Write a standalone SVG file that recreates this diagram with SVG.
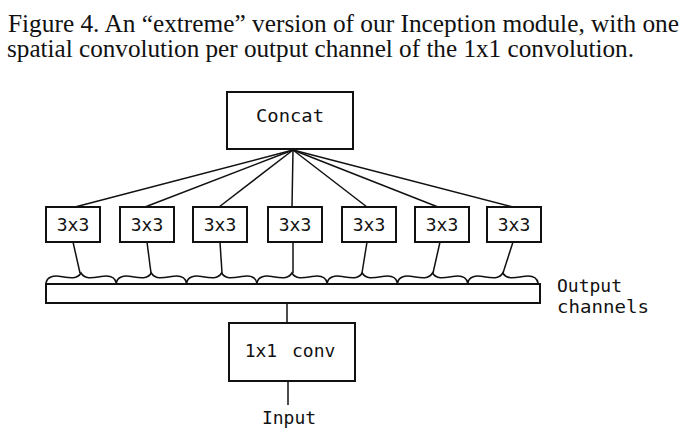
<svg xmlns="http://www.w3.org/2000/svg" width="688" height="440" viewBox="0 0 688 440">
<style>
.cap{font-family:"Liberation Serif","Times New Roman",serif;font-size:25px;fill:#111}
.m{font-family:"DejaVu Sans Mono","Liberation Mono",monospace;font-size:18px;fill:#111}
.box{fill:#fff;stroke:#111;stroke-width:2}
.ln{stroke:#111;stroke-width:1.5;fill:none}
.br{stroke:#111;stroke-width:1.6;fill:none}
</style>
<defs>
<path id="brace" d="M0,10 C1,4 7,2 15,3.5 C24,5 31,6.5 35,0 C39,6.5 46,5 55,3.5 C63,2 69,4 70.3,10"/>
</defs>
<text class="cap" x="8" y="32" textLength="671" lengthAdjust="spacingAndGlyphs">Figure 4. An “extreme” version of our Inception module, with one</text>
<text class="cap" x="7" y="57" textLength="627" lengthAdjust="spacingAndGlyphs">spatial convolution per output channel of the 1x1 convolution.</text>
<g id="connectors">
<line class="ln" x1="293" y1="150" x2="75" y2="207"/>
<line class="ln" x1="293" y1="150" x2="145" y2="207"/>
<line class="ln" x1="293" y1="150" x2="219" y2="207"/>
<line class="ln" x1="293" y1="150" x2="292" y2="207"/>
<line class="ln" x1="293" y1="150" x2="367" y2="207"/>
<line class="ln" x1="293" y1="150" x2="438" y2="207"/>
<line class="ln" x1="293" y1="150" x2="513" y2="207"/>
<line class="ln" x1="73" y1="242" x2="80" y2="273"/>
<line class="ln" x1="147" y1="242" x2="151" y2="273"/>
<line class="ln" x1="220" y1="242" x2="222" y2="273"/>
<line class="ln" x1="293" y1="242" x2="293" y2="273"/>
<line class="ln" x1="367" y1="242" x2="362" y2="273"/>
<line class="ln" x1="440" y1="242" x2="433" y2="273"/>
<line class="ln" x1="513" y1="242" x2="503" y2="273"/>
<line class="ln" x1="287" y1="303" x2="287" y2="323"/>
<line class="ln" x1="288" y1="381" x2="288" y2="405"/>
</g>
<g id="concat">
<rect class="box" x="227" y="92" width="126" height="57"/>
<text class="m" x="290" y="122" text-anchor="middle" textLength="68" lengthAdjust="spacingAndGlyphs">Concat</text>
</g>
<g id="conv3x3-1"><rect class="box" x="46" y="207" width="54" height="35"/><text class="m" x="73" y="230.5" text-anchor="middle">3x3</text></g>
<g id="conv3x3-2"><rect class="box" x="120" y="207" width="54" height="35"/><text class="m" x="147" y="230.5" text-anchor="middle">3x3</text></g>
<g id="conv3x3-3"><rect class="box" x="193" y="207" width="54" height="35"/><text class="m" x="220" y="230.5" text-anchor="middle">3x3</text></g>
<g id="conv3x3-4"><rect class="box" x="268" y="207" width="54" height="35"/><text class="m" x="295" y="230.5" text-anchor="middle">3x3</text></g>
<g id="conv3x3-5"><rect class="box" x="342" y="207" width="54" height="35"/><text class="m" x="369" y="230.5" text-anchor="middle">3x3</text></g>
<g id="conv3x3-6"><rect class="box" x="415" y="207" width="54" height="35"/><text class="m" x="442" y="230.5" text-anchor="middle">3x3</text></g>
<g id="conv3x3-7"><rect class="box" x="487" y="207" width="54" height="35"/><text class="m" x="514" y="230.5" text-anchor="middle">3x3</text></g>
<g id="output-channels">
<g class="br">
<use href="#brace" transform="translate(46,273)"/>
<use href="#brace" transform="translate(116.3,273)"/>
<use href="#brace" transform="translate(186.6,273)"/>
<use href="#brace" transform="translate(256.9,273)"/>
<use href="#brace" transform="translate(327.2,273)"/>
<use href="#brace" transform="translate(397.5,273)"/>
<use href="#brace" transform="translate(467.8,273)"/>
</g>
<rect class="box" x="46" y="284" width="494" height="19"/>
<text class="m" x="557" y="292">Output</text>
<text class="m" x="557" y="313" textLength="92" lengthAdjust="spacingAndGlyphs">channels</text>
</g>
<g id="conv1x1">
<rect class="box" x="229" y="323" width="126" height="58"/>
<text class="m" x="290" y="357" text-anchor="middle" word-spacing="4">1x1 conv</text>
</g>
<g id="input">
<text class="m" x="289" y="424" text-anchor="middle">Input</text>
</g>
</svg>
